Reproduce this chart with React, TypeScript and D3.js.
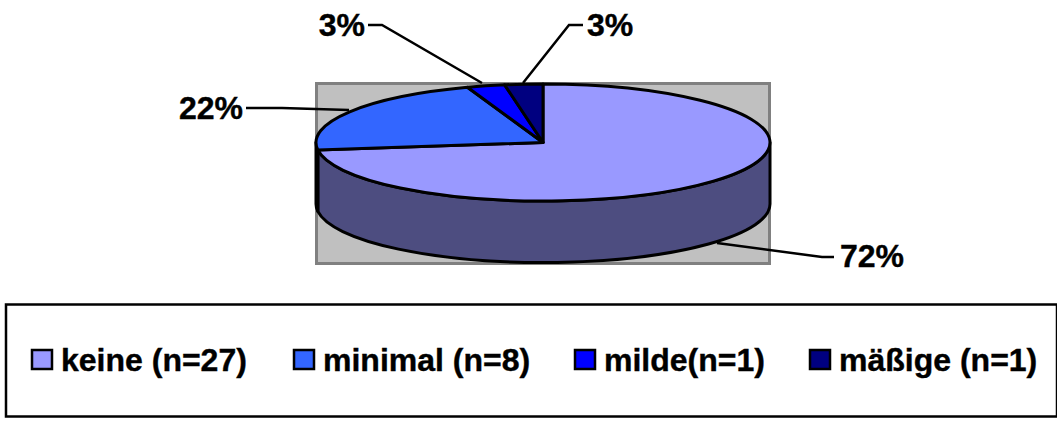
import React from "react";
import * as d3 from "d3";

// Patient counts per severity grade
const categories = ["keine", "minimal", "milde", "mäßige"];
const counts = [27, 8, 1, 1];
const legendLabels = ["keine (n=27)", "minimal (n=8)", "milde(n=1)", "mäßige (n=1)"];
const percentLabels = ["72%", "22%", "3%", "3%"];
const topColors = ["#9999ff", "#3366ff", "#0000ff", "#000080"];
const sideColors = ["#4d4d80", "#1f3d99", "#000099", "#00004d"];

const legendSwatchX = [32, 294, 575, 810];
const calloutPaths: [number, number][][] = [
  [[834, 257], [822, 257], [717, 243]],
  [[246, 108], [282, 108], [349, 110]],
  [[368, 25], [382, 25], [482, 83]],
  [[583, 25], [569, 25], [523, 83]],
];
const calloutText: [number, number, string][] = [
  [840, 267, "start"],
  [243, 119, "end"],
  [365, 36, "end"],
  [587, 36, "start"],
];

const cx = 543;
const cy = 142.5;
const rx = 227;
const ry = 58.5;
const depth = 61.5;
const font = "'Liberation Sans', Arial, sans-serif";

// Point on the top ellipse for a pie angle measured clockwise from 12 o'clock
const rim = (a: number, dy = 0): [number, number] => [
  cx + rx * Math.sin(a),
  cy - ry * Math.cos(a) + dy,
];

// Front wall of a slice: top rim, drop by the depth, bottom rim back
function wallPath(a0: number, a1: number): string {
  const p0 = rim(a0);
  const p1 = rim(a1);
  const p2 = rim(a1, depth);
  const p3 = rim(a0, depth);
  return (
    `M${p0}A${rx},${ry} 0 0 1 ${p1}` +
    `L${p2}A${rx},${ry} 0 0 0 ${p3}Z`
  );
}

export default function App() {
  const slices = d3.pie<number>().sort(null)(counts);
  const unitArc = d3.arc<d3.PieArcDatum<number>>().innerRadius(0).outerRadius(1);
  const line = d3.line();

  return (
    <svg
      width={1057}
      height={421}
      style={{ position: "absolute", left: 0, top: 0, background: "#fff" }}
    >
      <rect x={316.5} y={83.5} width={453} height={180} fill="#c0c0c0" stroke="#808080" strokeWidth={3} />

      {slices.map((s, i) => {
        const a0 = Math.max(s.startAngle, Math.PI / 2);
        const a1 = Math.min(s.endAngle, (3 * Math.PI) / 2);
        if (a1 <= a0) return null;
        return (
          <path
            key={categories[i]}
            d={wallPath(a0, a1)}
            fill={sideColors[i]}
            stroke="#000"
            strokeWidth={3}
            strokeLinejoin="round"
          />
        );
      })}

      {slices.map((s, i) => (
        <path
          key={categories[i]}
          d={unitArc(s) ?? ""}
          transform={`translate(${cx},${cy}) scale(${rx},${ry})`}
          fill={topColors[i]}
          stroke="#000"
          strokeWidth={3}
          strokeLinejoin="round"
          vectorEffect="non-scaling-stroke"
        />
      ))}

      {calloutPaths.map((pts, i) => (
        <path key={i} d={line(pts) ?? ""} fill="none" stroke="#000" strokeWidth={2.5} />
      ))}
      {percentLabels.map((t, i) => (
        <text
          key={i}
          x={calloutText[i][0]}
          y={calloutText[i][1]}
          textAnchor={calloutText[i][2] as "start" | "end"}
          fontFamily={font}
          fontWeight="bold"
          fontSize={32}
          fill="#000"
          stroke="#000"
          strokeWidth={0.4}
        >
          {t}
        </text>
      ))}

      <rect x={6} y={304.5} width={1051} height={112} fill="#fff" stroke="#000" strokeWidth={2.5} />
      {legendLabels.map((t, i) => (
        <g key={t}>
          <rect
            x={legendSwatchX[i]}
            y={350}
            width={20}
            height={19}
            fill={topColors[i]}
            stroke="#000"
            strokeWidth={2.5}
          />
          <text
            x={legendSwatchX[i] + 29}
            y={371}
            fontFamily={font}
            fontWeight="bold"
            fontSize={32}
            fill="#000"
            stroke="#000"
            strokeWidth={0.4}
          >
            {t}
          </text>
        </g>
      ))}
    </svg>
  );
}
